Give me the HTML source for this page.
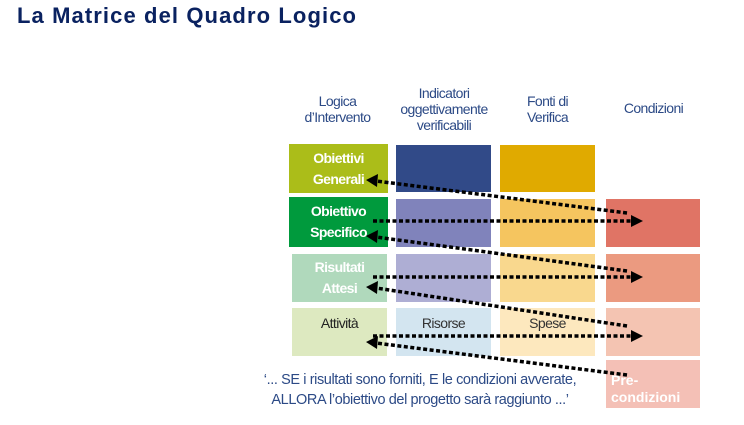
<!DOCTYPE html><html><head><style>
body{margin:0;width:744px;height:425px;background:#fff;position:relative;overflow:hidden;font-family:"Liberation Sans",sans-serif}
.a{position:absolute}
.b{position:absolute;display:flex;align-items:center;justify-content:center;text-align:center;font-size:14px;line-height:21px;letter-spacing:-0.6px}
.h{position:absolute;color:#2c4a86;font-size:14px;line-height:16px;text-align:center;letter-spacing:-0.6px}
.w{color:#fff;font-weight:bold}
</style></head><body>
<div class="a" style="left:17px;top:3px;font-size:22px;font-weight:bold;color:#0a2260;letter-spacing:1.1px">La Matrice del Quadro Logico</div>
<div class="h" style="left:285px;top:93px;width:105px">Logica<br>d’Intervento</div>
<div class="h" style="left:388px;top:85px;width:112px">Indicatori<br>oggettivamente<br>verificabili</div>
<div class="h" style="left:500px;top:93px;width:95px">Fonti di<br>Verifica</div>
<div class="h" style="left:606px;top:100px;width:95px">Condizioni</div>

<div class="b w" style="left:289px;top:144px;width:99px;height:49px;background:#abbd19">Obiettivi<br>Generali</div>
<div class="b w" style="left:289px;top:197px;width:99px;height:50px;background:#009a3d">Obiettivo<br>Specifico</div>
<div class="b w" style="left:292px;top:254px;width:95px;height:48px;background:#b0d9bc">Risultati<br>Attesi</div>
<div class="b" style="left:292px;top:308px;width:95px;height:48px;background:#dde9c0;align-items:flex-start;padding-top:5px;box-sizing:border-box;color:#222">Attività</div>

<div class="b" style="left:396px;top:145px;width:95px;height:47px;background:#314a88"></div>
<div class="b" style="left:396px;top:199px;width:95px;height:48px;background:#8083bb"></div>
<div class="b" style="left:396px;top:254px;width:95px;height:48px;background:#aeaed4"></div>
<div class="b" style="left:396px;top:308px;width:95px;height:48px;background:#d3e5f0;align-items:flex-start;padding-top:5px;box-sizing:border-box;color:#333">Risorse</div>

<div class="b" style="left:500px;top:145px;width:95px;height:47px;background:#e0aa00"></div>
<div class="b" style="left:500px;top:199px;width:95px;height:48px;background:#f5c55f"></div>
<div class="b" style="left:500px;top:254px;width:95px;height:48px;background:#f9d88e"></div>
<div class="b" style="left:500px;top:308px;width:95px;height:48px;background:#fde8be;align-items:flex-start;padding-top:5px;box-sizing:border-box;color:#333">Spese</div>

<div class="b" style="left:606px;top:199px;width:94px;height:48px;background:#e07465"></div>
<div class="b" style="left:606px;top:254px;width:94px;height:48px;background:#eb9a80"></div>
<div class="b" style="left:606px;top:308px;width:94px;height:48px;background:#f4c4b2"></div>
<div class="b w" style="left:606px;top:360px;width:94px;height:48px;background:#f4c0b6;justify-content:flex-start;padding-left:5px;box-sizing:border-box;text-align:left;line-height:17px;padding-top:10px;letter-spacing:0">Pre-<br>condizioni</div>

<div class="a" style="left:245px;top:370px;width:350px;text-align:center;color:#2c4a86;font-size:14.5px;line-height:20px;letter-spacing:-0.4px">‘... SE i risultati sono forniti, E le condizioni avverate,<br>ALLORA l’obiettivo del progetto sarà raggiunto ...’</div>

<svg class="a" style="left:0;top:0" width="744" height="425">
<g stroke="#000" stroke-width="3.5" stroke-dasharray="4,2.5" fill="none">
<line x1="373" y1="221" x2="632" y2="221"/>
<line x1="373" y1="277" x2="632" y2="277"/>
<line x1="373" y1="336" x2="632" y2="336"/>
<line x1="627" y1="213" x2="376" y2="181"/>
<line x1="627" y1="271" x2="376" y2="237"/>
<line x1="627" y1="326" x2="376" y2="288"/>
<line x1="627" y1="375" x2="376" y2="343"/>
</g>
<g fill="#000">
<polygon points="643,221 631,215 631,227"/>
<polygon points="643,277 631,271 631,283"/>
<polygon points="643,336 631,330 631,342"/>
<polygon points="366,180 378,174 377,187"/>
<polygon points="366,236 378,230 377,243"/>
<polygon points="366,287 378,281 377,294"/>
<polygon points="366,342 378,336 377,349"/>
</g>
</svg>
</body></html>
